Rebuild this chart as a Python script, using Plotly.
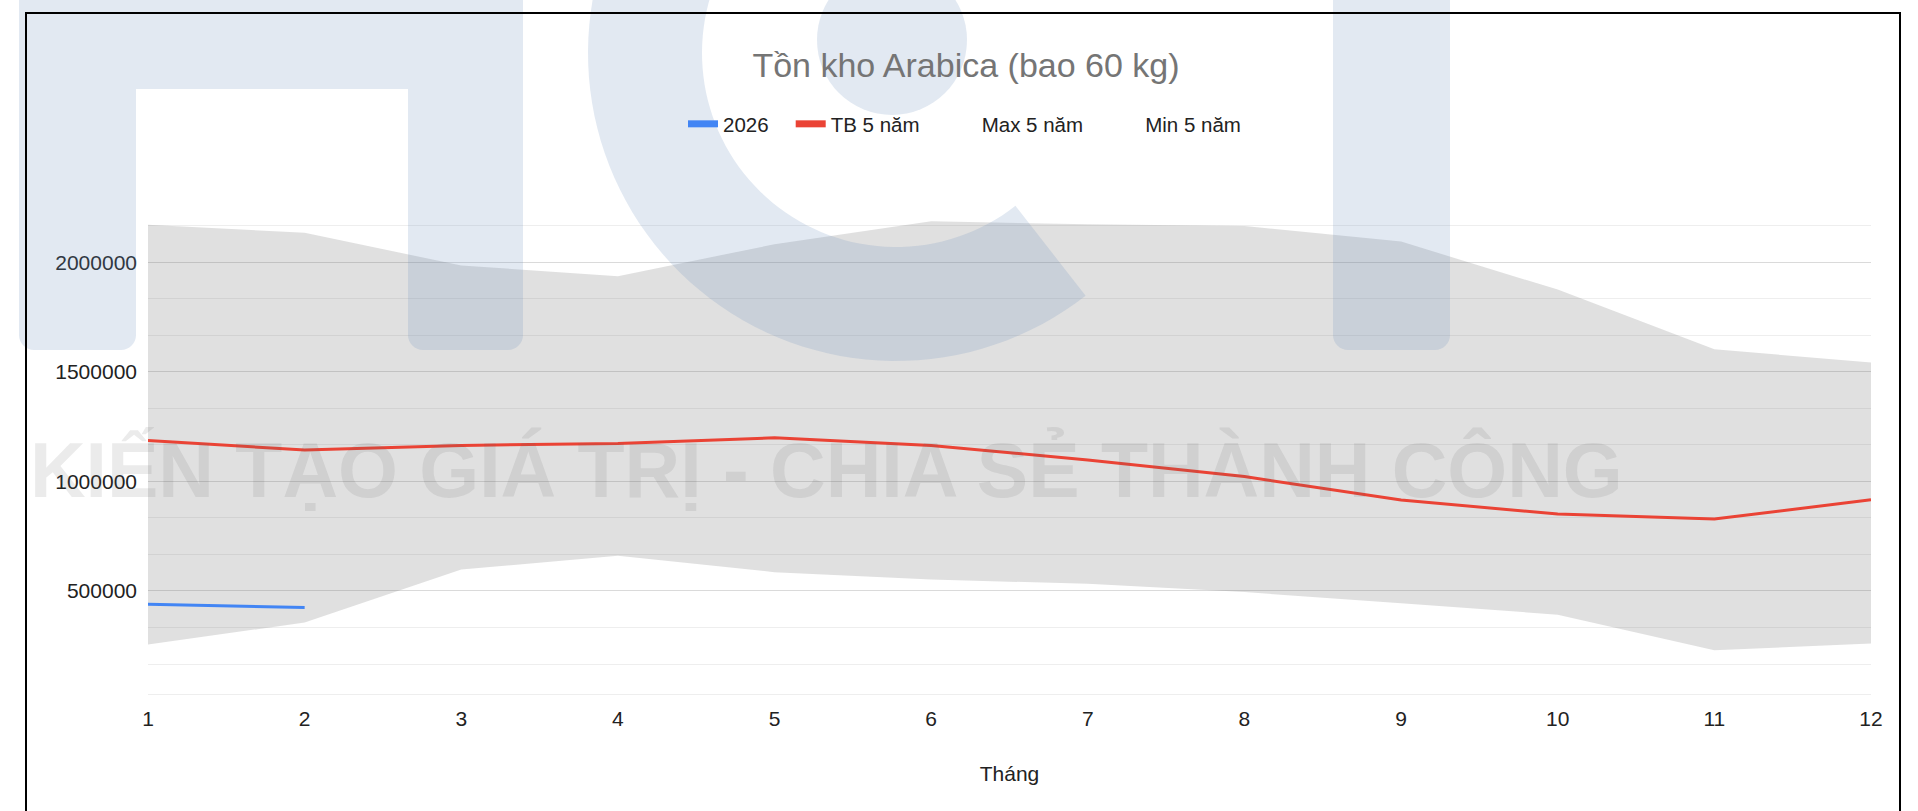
import math
import plotly.graph_objects as go

# ---------------- data ----------------
months = list(range(1, 13))
month_labels = [str(m) for m in months]
max5 = [2171000, 2134000, 1985000, 1936000, 2082000, 2187000,
        2173000, 2165000, 2094000, 1875000, 1603000, 1542000]
min5 = [256000, 356000, 598000, 661000, 586000, 552000,
        533000, 495000, 444000, 392000, 230000, 260000]
tb5 = [1187000, 1143000, 1164000, 1173000, 1199000, 1164000,
       1098000, 1022000, 915000, 851000, 828000, 916000]
months_2026 = [1, 2]
y2026 = [439000, 425000]

y_major = [500000, 1000000, 1500000, 2000000]
y_major_labels = ["500000", "1000000", "1500000", "2000000"]
y_minor = [round(k * 500000 / 3) for k in range(1, 15) if k % 3 != 0]

NB = "\u00a0"
legend_entries = [
    ("2026" + NB * 3, "#4285F4"),
    ("TB 5 năm" + NB * 3, "#EA4335"),
    ("Max 5 năm" + NB * 3, "rgba(0,0,0,0)"),
    ("Min 5 năm", "rgba(0,0,0,0)"),
]

# ---------------- geometry helpers (pixels -> paper) ----------------
W_FIG, H_FIG = 1918, 811
L, R, T, B = 148, 1871, 189, 694
PW, PH = R - L, B - T


def px(X):
    return (X - L) / PW


def py(Y):
    return (B - Y) / PH


def path_from(points):
    return "M" + " L".join(f"{px(x):.5f},{py(y):.5f}" for x, y in points) + " Z"


def round_corner(pts, cxr, cyr, r, a_start, n=8):
    for i in range(1, n + 1):
        a = a_start + math.pi / 2 * i / n
        pts.append((cxr + r * math.cos(a), cyr + r * math.sin(a)))


def rounded_bottom(x0, x1, ytop, ybot, r=15):
    pts = [(x0, ytop), (x1, ytop), (x1, ybot - r)]
    round_corner(pts, x1 - r, ybot - r, r, 0)
    pts.append((x0 + r, ybot))
    round_corner(pts, x0 + r, ybot - r, r, math.pi / 2)
    return pts


fig = go.Figure()

# band between min and max
fig.add_trace(go.Scatter(x=months, y=min5, mode="lines", name="Min 5 năm",
                         line=dict(color="rgba(0,0,0,0)", width=0),
                         showlegend=False, hoverinfo="skip"))
fig.add_trace(go.Scatter(x=months, y=max5, mode="lines", name="Max 5 năm",
                         line=dict(color="rgba(0,0,0,0)", width=0),
                         fill="tonexty", fillcolor="rgba(100,100,100,0.2)",
                         showlegend=False, hoverinfo="skip"))
fig.add_trace(go.Scatter(x=months, y=tb5, mode="lines", name="TB 5 năm",
                         line=dict(color="#EA4335", width=3), showlegend=False))
fig.add_trace(go.Scatter(x=months_2026, y=y2026, mode="lines", name="2026",
                         line=dict(color="#4285F4", width=3), showlegend=False))

# legend-only entries
for rank, (name, color) in enumerate(legend_entries):
    fig.add_trace(go.Scatter(x=[None], y=[None], mode="lines", name=name,
                             line=dict(color=color, width=7),
                             showlegend=True, legendrank=rank + 1))

# ---------------- watermark ----------------
wm_fill = "rgba(112,145,192,0.2)"
shapes = []

# "П" shape
pi_pts = [(19, -30), (523, -30), (523, 335)]
round_corner(pi_pts, 508, 335, 15, 0)
pi_pts.append((423, 350))
round_corner(pi_pts, 423, 335, 15, math.pi / 2)
pi_pts += [(408, 89), (136, 89), (136, 335)]
round_corner(pi_pts, 121, 335, 15, 0)
pi_pts.append((34, 350))
round_corner(pi_pts, 34, 335, 15, math.pi / 2)
shapes.append(dict(type="path", path=path_from(pi_pts), xref="paper", yref="paper",
                   fillcolor=wm_fill, line=dict(width=0), layer="above"))

# "C" ring
cx, cy, ro, ri = 896, 53, 308, 194
a0, a1 = math.radians(52), math.radians(270)
N = 90
ring = []
for i in range(N + 1):
    a = a0 + (a1 - a0) * i / N
    ring.append((cx + ro * math.cos(a), cy + ro * math.sin(a)))
for i in range(N + 1):
    a = a1 - (a1 - a0) * i / N
    ring.append((cx + ri * math.cos(a), cy + ri * math.sin(a)))
shapes.append(dict(type="path", path=path_from(ring), xref="paper", yref="paper",
                   fillcolor=wm_fill, line=dict(width=0), layer="above"))

# inner disc
dcx, dcy, dr = 892, 40, 75
shapes.append(dict(type="circle", xref="paper", yref="paper",
                   x0=px(dcx - dr), x1=px(dcx + dr), y0=py(dcy + dr), y1=py(dcy - dr),
                   fillcolor=wm_fill, line=dict(width=0), layer="above"))

# "I" bar
shapes.append(dict(type="path", path=path_from(rounded_bottom(1333, 1450, -30, 350)),
                   xref="paper", yref="paper", fillcolor=wm_fill,
                   line=dict(width=0), layer="above"))

# frame
shapes.append(dict(type="rect", xref="paper", yref="paper",
                   x0=px(26), x1=px(1900), y0=py(840), y1=py(13),
                   line=dict(color="black", width=2), fillcolor="rgba(0,0,0,0)",
                   layer="above"))

fig.add_annotation(text="KIẾN TẠO GIÁ TRỊ - CHIA SẺ THÀNH CÔNG",
                   xref="paper", yref="paper", x=px(826), y=py(470),
                   xanchor="center", yanchor="middle", showarrow=False,
                   font=dict(family="Liberation Sans, Arial, sans-serif", size=77,
                             color="rgba(100,100,100,0.13)", weight="bold"))

fig.update_layout(
    width=W_FIG, height=H_FIG, autosize=False,
    margin=dict(l=L, r=W_FIG - R, t=T, b=H_FIG - B, pad=0),
    paper_bgcolor="white", plot_bgcolor="white",
    font=dict(family="Liberation Sans, Arial, sans-serif", size=21, color="#222222"),
    title=dict(text="Tồn kho Arabica (bao 60 kg)", xref="container", x=966 / W_FIG,
               xanchor="center", yref="container", y=1 - 65 / H_FIG, yanchor="middle",
               font=dict(size=34, color="#757575")),
    legend=dict(orientation="h", xref="container", x=683 / W_FIG, xanchor="left",
                yref="container", y=1 - 124 / H_FIG, yanchor="middle",
                traceorder="normal",
                font=dict(size=20.5, color="#222222"), bgcolor="rgba(0,0,0,0)",
                borderwidth=0, itemwidth=30, tracegroupgap=0),
    xaxis=dict(range=[1, 12], tickmode="array", tickvals=months, ticktext=month_labels,
               showgrid=False, zeroline=False, showline=True, linecolor="#EEEEEE",
               linewidth=1, ticks="", tickfont=dict(size=21), ticklabelstandoff=6,
               title=dict(text="Tháng", font=dict(size=21), standoff=37)),
    yaxis=dict(range=[30000, 2334000], tickmode="array", tickvals=y_major,
               ticktext=y_major_labels, showgrid=True, gridcolor="#DADADA", gridwidth=1,
               zeroline=False, showline=False, ticks="", ticklabelstandoff=10,
               tickfont=dict(size=21),
               minor=dict(tickmode="array", tickvals=y_minor, showgrid=True,
                          gridcolor="#EEEEEE", gridwidth=1, ticks="")),
    shapes=shapes,
    hovermode=False,
)

fig.write_html("out.html",
               config={"displayModeBar": False},
               post_script="document.body.style.margin='0px';document.body.style.overflow='hidden';")
